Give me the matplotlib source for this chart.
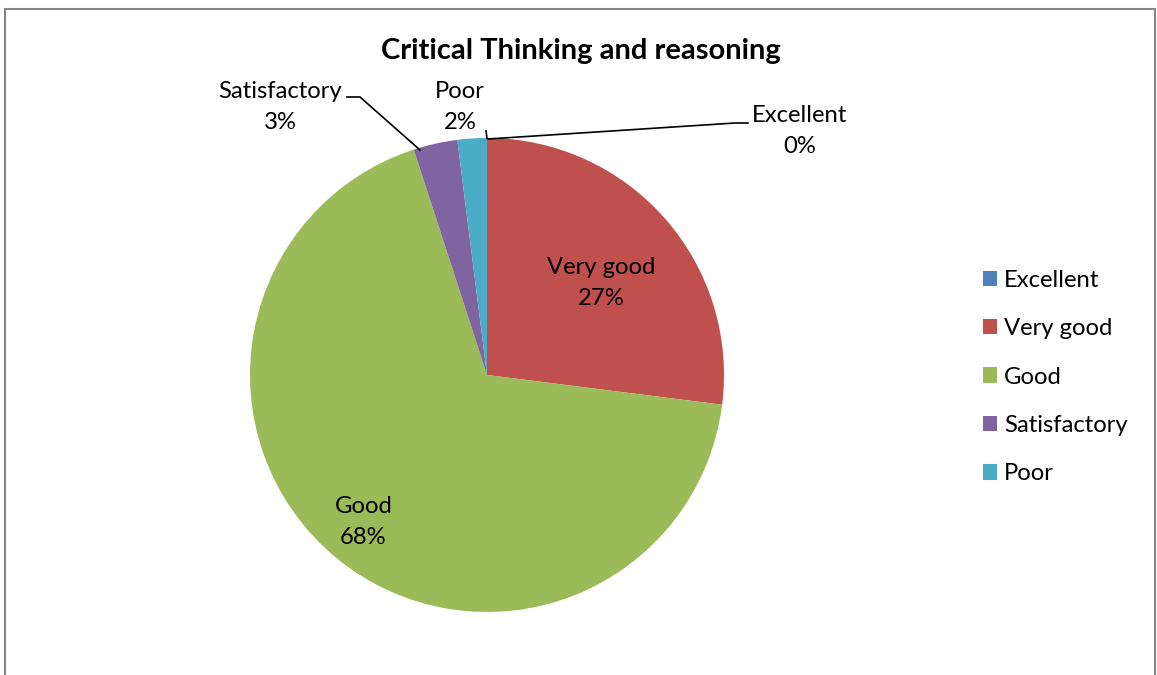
import matplotlib
matplotlib.use('Agg')
import matplotlib.pyplot as plt
import matplotlib.patches as mpatches
import numpy as np

# data
categories = ['Excellent', 'Very good', 'Good', 'Satisfactory', 'Poor']
shares = [0, 27, 68, 3, 2]
colors = ['#4F81BD', '#C0504D', '#9BBB59', '#8064A2', '#4BACC6']

plt.rcParams['font.family'] = ['Lato', 'DejaVu Sans']

W, H = 1157, 675
CX, CY, R = 487, 300, 237
FS = 17.2
LS = 1.6

fig = plt.figure(figsize=(W / 100, H / 100), dpi=100)
ax = fig.add_axes([0, 0, 1, 1])
wedges, _ = ax.pie(shares, colors=colors, startangle=90, counterclock=False,
                   center=(CX, CY), radius=R, wedgeprops=dict(linewidth=0))
ax.set_xlim(0, W)
ax.set_ylim(0, H)
ax.set_aspect('equal')
ax.axis('off')

# chart border
ax.add_patch(mpatches.Rectangle((4.5, -10), 1150, 676.5, fill=False,
                                edgecolor='#868686', lw=1.5))

fig.text(581 / W, 1 - 51 / H, 'Critical Thinking and reasoning',
         ha='center', va='center', fontsize=21, fontweight='bold')

# labels inside the big slices (angle offset in deg, radius fraction)
inside = {'Very good': (-2.5, 0.62), 'Good': (-0.5, 0.81)}
for w, cat, v in zip(wedges, categories, shares):
    if cat in inside:
        da, fr = inside[cat]
        a = np.deg2rad((w.theta1 + w.theta2) / 2 + da)
        r = R * fr
        ax.text(CX + r * np.cos(a), CY + r * np.sin(a), f'{cat}\n{v}%',
                ha='center', va='center', fontsize=FS, linespacing=LS)

# labels outside the small slices, with leader lines
outside = {
    'Satisfactory': ((280, 568), [(347, 578), (360, 578), (420, 525)]),
    'Poor': ((460, 568), [(486, 544), (487, 537)]),
    'Excellent': ((800, 544), [(748, 552), (735, 552), (488, 536)]),
}
for cat, v in zip(categories, shares):
    if cat in outside:
        (tx, ty), line = outside[cat]
        ax.text(tx, ty, f'{cat}\n{v}%', ha='center', va='center',
                fontsize=FS, linespacing=LS)
        xs, ys = zip(*line)
        ax.plot(xs, ys, color='black', lw=1.2)

ax.legend(wedges, categories, loc='center left',
          bbox_to_anchor=(961 / W, (H - 377) / H), frameon=False,
          fontsize=FS, handlelength=0.6, handleheight=0.6,
          handletextpad=0.3, labelspacing=1.15)

fig.savefig('out.png', dpi=100)
